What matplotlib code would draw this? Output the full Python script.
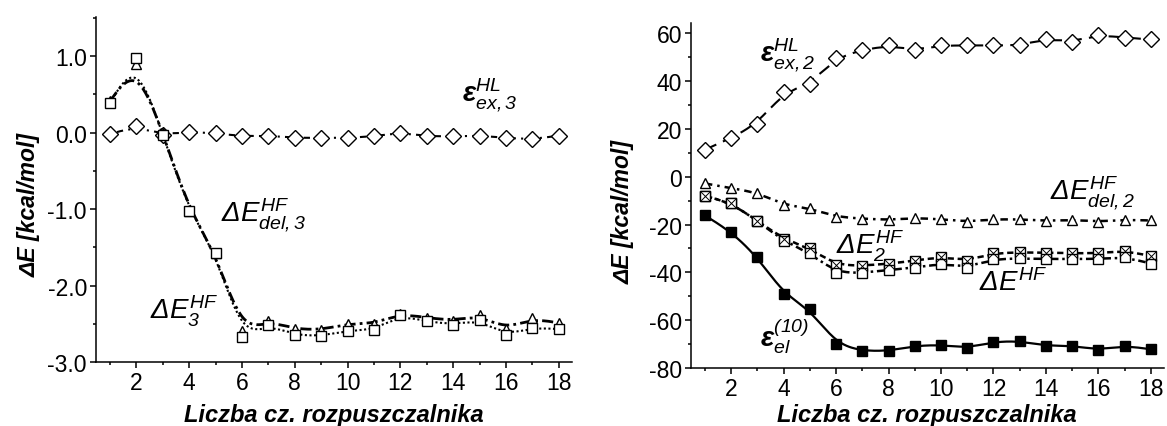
import numpy as np
import matplotlib
matplotlib.use("Agg")
import matplotlib.pyplot as plt
from matplotlib.ticker import MultipleLocator, FormatStrFormatter

plt.rcParams['font.family'] = ['Liberation Sans', 'DejaVu Sans']
plt.rcParams['axes.unicode_minus'] = False
plt.rcParams['mathtext.fontset'] = 'custom'
plt.rcParams['mathtext.it'] = 'Liberation Sans:italic'
plt.rcParams['mathtext.rm'] = 'Liberation Sans:italic'
plt.rcParams['mathtext.bf'] = 'Liberation Sans:bold:italic'

n = np.arange(1, 19)

# lewy panel - trojki
eps_ex3 = [-0.02, 0.08, -0.03, 0.01, -0.01, -0.05, -0.04, -0.07, -0.07,
           -0.07, -0.05, 0.0, -0.05, -0.05, -0.04, -0.07, -0.09, -0.04]
dE3 = [0.38, 0.97, -0.03, -1.03, -1.57, -2.67, -2.51, -2.65, -2.66,
       -2.59, -2.58, -2.39, -2.47, -2.51, -2.45, -2.65, -2.55, -2.57]
dEdel3 = [0.41, 0.89, 0.0, -1.02, -1.57, -2.60, -2.46, -2.57, -2.58,
          -2.50, -2.50, -2.37, -2.42, -2.46, -2.39, -2.57, -2.43, -2.49]

# prawy panel - dwojki
eps_ex2 = [11.3, 16.2, 22.1, 35.4, 38.6, 49.8, 53.0, 54.9, 52.9,
           54.9, 54.9, 54.9, 54.9, 57.7, 56.4, 59.3, 58.2, 57.4]
dEdel2 = [-2.8, -4.8, -6.6, -11.8, -13.2, -16.8, -17.5, -18.1, -17.2,
          -17.8, -18.8, -17.8, -17.8, -18.5, -18.0, -18.8, -18.0, -18.3]
dEHF = [-8.0, -11.0, -18.5, -26.9, -31.9, -40.2, -40.2, -39.0, -38.0,
        -36.3, -38.0, -34.4, -34.2, -34.4, -34.4, -34.4, -33.6, -36.3]
dE2 = [-8.0, -11.0, -18.5, -26.0, -30.0, -37.0, -37.2, -36.4, -35.1,
       -33.5, -35.1, -32.0, -31.6, -31.8, -32.0, -32.0, -30.9, -33.2]
eps_el = [-16.2, -23.0, -33.5, -49.1, -55.4, -70.0, -72.9, -72.9, -70.7,
          -70.3, -71.7, -69.0, -68.7, -70.8, -70.6, -72.5, -70.6, -72.2]

W, H = 1167, 427


def bspline(x, y, k=20):
    # jednorodny B-spline jak w Origin, konce przypiete
    px = np.r_[x[0], x[0], x, x[-1], x[-1]].astype(float)
    py = np.r_[y[0], y[0], y, y[-1], y[-1]].astype(float)
    t = np.linspace(0, 1, k, endpoint=False)
    b0 = (1 - t) ** 3 / 6
    b1 = (3 * t**3 - 6 * t**2 + 4) / 6
    b2 = (-3 * t**3 + 3 * t**2 + 3 * t + 1) / 6
    b3 = t**3 / 6
    xs, ys = [], []
    for i in range(len(px) - 3):
        xs.append(b0 * px[i] + b1 * px[i+1] + b2 * px[i+2] + b3 * px[i+3])
        ys.append(b0 * py[i] + b1 * py[i+1] + b2 * py[i+2] + b3 * py[i+3])
    xs.append([x[-1]])
    ys.append([y[-1]])
    return np.concatenate(xs), np.concatenate(ys)


def seria(ax, y, marker, ls, lw=1.5, mfc='white', ms=7, cross=False):
    sx, sy = bspline(n, y)
    ax.plot(sx, sy, color='black', ls=ls, lw=lw, zorder=2)
    ax.plot(n, y, ls='none', marker=marker, ms=ms, mfc=mfc, mec='black',
            mew=1.0, zorder=3)
    if cross:
        ax.plot(n, y, ls='none', marker='x', ms=ms * 0.95, mec='black',
                mew=0.7, zorder=4)


def osie(ax, fmt, major, minor):
    for s in ['top', 'right']:
        ax.spines[s].set_visible(False)
    ax.spines['left'].set_linewidth(1.1)
    ax.spines['bottom'].set_linewidth(1.1)
    ax.xaxis.set_major_locator(MultipleLocator(2))
    ax.xaxis.set_minor_locator(MultipleLocator(1))
    ax.yaxis.set_major_locator(MultipleLocator(major))
    ax.yaxis.set_minor_locator(MultipleLocator(minor))
    ax.yaxis.set_major_formatter(FormatStrFormatter(fmt))
    ax.tick_params(which='major', direction='out', length=4.5, width=1.1,
                   labelsize=16.5, pad=2)
    ax.tick_params(which='minor', direction='out', length=2.5, width=1.1)


def napis(px, py, s, size=20, **kw):
    fig.text(px / W, 1 - py / H, s, fontsize=size, **kw)


fig = plt.figure(figsize=(W / 100, H / 100), dpi=100)
ax1 = fig.add_axes([96 / W, 1 - 363 / H, 476 / W, 345 / H])
ax2 = fig.add_axes([691 / W, 1 - 369 / H, 473 / W, 345 / H])

seria(ax1, eps_ex3, 'D', (0, (1, 2.5, 3, 2.5)), ms=8.5)
seria(ax1, dEdel3, '^', (0, (4, 1.5, 1, 1.5)), lw=2.0, ms=7.5)
seria(ax1, dE3, 's', (0, (1, 1.2)), lw=1.5)
ax1.set_xlim(0.47, 18.5)
ax1.set_ylim(-3.0, 1.51)
osie(ax1, '%.1f', 1.0, 0.5)

seria(ax2, eps_ex2, 'D', (0, (6, 3.5)), ms=8.5)
seria(ax2, dEdel2, '^', (0, (3, 2, 1, 2)), lw=1.8, ms=7.5)
seria(ax2, dE2, 's', (0, (2.5, 1.5)), lw=1.8, cross=True)
seria(ax2, dEHF, 's', (0, (3, 1.5, 1, 1.5)), lw=1.8)
seria(ax2, eps_el, 's', '-', lw=1.6, mfc='black')
ax2.set_xlim(0.47, 18.5)
ax2.set_ylim(-80, 64.3)
osie(ax2, '%d', 20, 10)

# podpisy osi
for cx, cy in [(334, 422), (927, 422)]:
    napis(cx, cy, 'Liczba cz. rozpuszczalnika', size=17, ha='center',
          va='baseline', fontweight='bold', style='italic')
for cx, cy in [(29, 205), (623, 212)]:
    napis(cx, cy, 'ΔE [kcal/mol]', size=16.5, ha='center', va='center',
          rotation=90, fontweight='bold', style='italic')

# etykiety krzywych
napis(462, 95, r'$\mathbf{\varepsilon}^{HL}_{ex,3}$', ha='left', va='center')
napis(221, 215, r'$\Delta E^{HF}_{del,3}$', ha='left', va='center')
napis(150, 311, r'$\Delta E^{HF}_{3}$', ha='left', va='center')
napis(760, 55, r'$\mathbf{\varepsilon}^{HL}_{ex,2}$', ha='left', va='center')
napis(1050, 193, r'$\Delta E^{HF}_{del,2}$', ha='left', va='center')
napis(836, 246, r'$\Delta E^{HF}_{2}$', ha='left', va='center')
napis(979, 283, r'$\Delta E^{HF}$', ha='left', va='center')
napis(760, 336, r'$\mathbf{\varepsilon}^{(10)}_{el}$', ha='left', va='center')

fig.savefig('out.png', dpi=100)
